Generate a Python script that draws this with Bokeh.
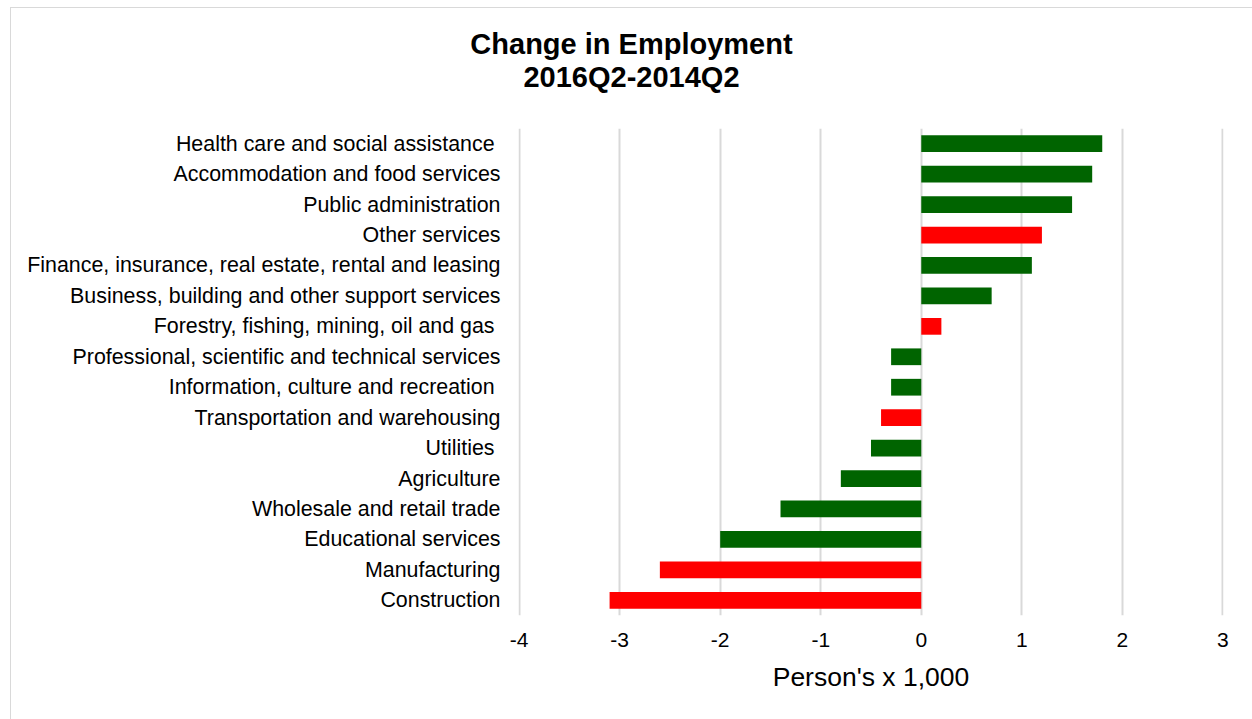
from bokeh.plotting import figure
from bokeh.models import ColumnDataSource, FactorRange, Div, Range1d, FixedTicker, CustomJSTickFormatter
from bokeh.layouts import column
from bokeh.embed import file_html
from bokeh.resources import INLINE

# Data (bottom to top)
categories = [
    "Construction",
    "Manufacturing",
    "Educational services",
    "Wholesale and retail trade",
    "Agriculture",
    "Utilities ",
    "Transportation and warehousing",
    "Information, culture and recreation ",
    "Professional, scientific and technical services",
    "Forestry, fishing, mining, oil and gas ",
    "Business, building and other support services",
    "Finance, insurance, real estate, rental and leasing",
    "Other services",
    "Public administration",
    "Accommodation and food services",
    "Health care and social assistance ",
]
changes = [-3.1, -2.6, -2.0, -1.4, -0.8, -0.5, -0.4, -0.3, -0.3, 0.2, 0.7, 1.1, 1.2, 1.5, 1.7, 1.8]
is_red = [True, True, False, False, False, False, True, False, False, True, False, False, True, False, False, False]
x_ticks = [-4, -3, -2, -1, 0, 1, 2, 3]

GREEN = "#006400"
RED = "#ff0000"
colors = [RED if r else GREEN for r in is_red]

source = ColumnDataSource(dict(cat=categories, val=changes, color=colors))

FONT = "Liberation Sans"

title = Div(
    text="Change in Employment<br>2016Q2-2014Q2",
    width=1241, height=100, margin=0,
    styles={"font-family": FONT, "font-weight": "bold", "font-size": "29px",
            "line-height": "33px", "text-align": "center", "color": "#000000",
            "padding-top": "20px", "box-sizing": "border-box", "width": "1241px"},
)

p = figure(
    y_range=FactorRange(factors=categories, range_padding=0),
    x_range=Range1d(-4.006, 3.006),
    width=1241, height=611, margin=0,
    output_backend="svg", toolbar_location=None,
    min_border_left=507, min_border_right=29, min_border_top=20, min_border_bottom=104,
)
p.hbar(y="cat", right="val", left=0, height=0.55, color="color", source=source, line_color=None)

p.outline_line_color = None
p.background_fill_color = "white"
p.border_fill_color = "white"

p.xaxis.ticker = FixedTicker(ticks=x_ticks)
p.xaxis.formatter = CustomJSTickFormatter(code="return tick.toString();")
p.xaxis.axis_line_color = None
p.xaxis.major_tick_line_color = None
p.xaxis.minor_tick_line_color = None
p.xaxis.major_tick_out = 0
p.xaxis.major_tick_in = 0
p.xaxis.major_label_text_font = FONT
p.xaxis.major_label_text_font_size = "21px"
p.xaxis.major_label_text_color = "#000000"
p.xaxis.major_label_standoff = 17
p.xaxis.axis_label = "Person's x 1,000"
p.xaxis.axis_label_text_font = FONT
p.xaxis.axis_label_text_font_size = "26.5px"
p.xaxis.axis_label_text_font_style = "normal"
p.xaxis.axis_label_text_color = "#000000"
p.xaxis.axis_label_standoff = 12

p.yaxis.axis_line_color = None
p.yaxis.major_tick_line_color = None
p.yaxis.minor_tick_line_color = None
p.yaxis.major_tick_out = 0
p.yaxis.major_tick_in = 0
p.yaxis.major_label_text_font = FONT
p.yaxis.major_label_text_font_size = "21.4px"
p.yaxis.major_label_text_color = "#000000"
p.yaxis.major_label_standoff = 18

p.ygrid.grid_line_color = None
p.xgrid.grid_line_color = "#d9d9d9"
p.xgrid.grid_line_width = 2

layout = column(
    title, p,
    margin=(7, 0, 0, 10), spacing=0,
    styles={"border-left": "1px solid #d9d9d9", "border-top": "1px solid #d9d9d9",
            "background-color": "white"},
)

open("out.html", "w").write(file_html(layout, INLINE))
